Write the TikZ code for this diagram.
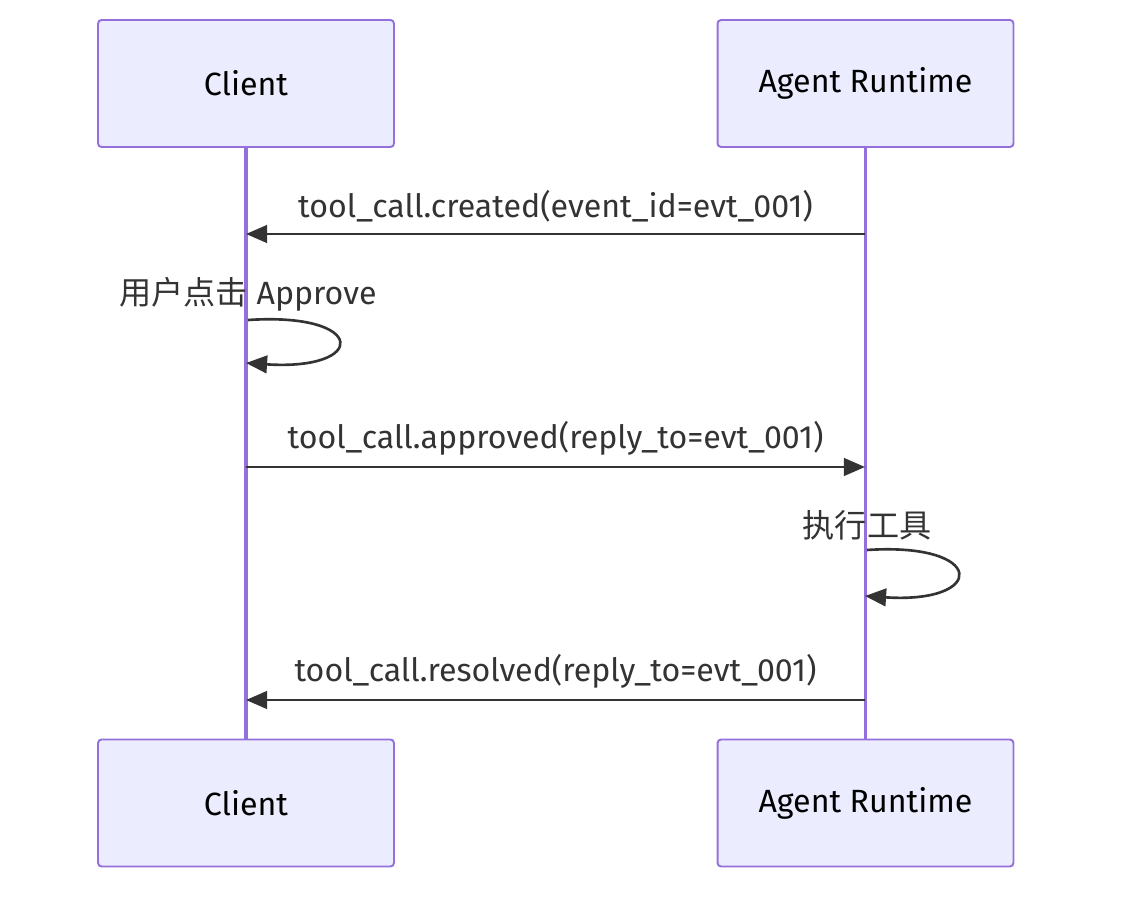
\documentclass[tikz,border=0pt]{standalone}
\usepackage{fontspec}
\setmainfont{Fira Sans}
\newfontfamily\cjk{Noto Sans CJK SC}
\usetikzlibrary{arrows.meta}
\definecolor{actfill}{HTML}{ECECFF}
\definecolor{actline}{HTML}{9370DB}
\definecolor{msgline}{HTML}{333333}
\tikzset{
  actor/.style={draw=actline, fill=actfill, line width=1.1pt, rounded corners=2pt,
    minimum width=5.92cm, minimum height=2.54cm, font=\fontsize{18.3}{22}\selectfont},
  life/.style={actline, line width=1.8pt},
  msg/.style={msgline, line width=1.5pt, -{Triangle[length=12pt,width=10pt]}},
  lbl/.style={text=msgline, font=\fontsize{18.3}{22}\selectfont, inner sep=0pt}
}
\begin{document}
\begin{tikzpicture}[x=0.02cm, y=-0.02cm]
\useasboundingbox (0,0) rectangle (1130,902);
\node[actor] (client) at (246,83.5) {Client};
\node[actor] (agent) at (865.5,83.5) {Agent Runtime};
\node[actor] (clientB) at (246,803) {Client};
\node[actor] (agentB) at (865.5,803) {Agent Runtime};
\draw[life] (client) -- (clientB);
\draw[life] (agent) -- (agentB);
% messages
\coordinate (c1) at (246,234);
\coordinate (a1) at (865,234);
\coordinate (c2) at (248,320);
\coordinate (c3) at (246,363);
\coordinate (c4) at (246,467);
\coordinate (a4) at (865,467);
\coordinate (a5) at (867,550);
\coordinate (a6) at (865,596);
\coordinate (c7) at (246,700);
\coordinate (a7) at (865,700);
\draw[msg] (a1) -- node[lbl, above=6pt] {tool\_call.created(event\_id=evt\_001)} (c1);
\node[lbl] (self1) at (248,294) {{\cjk 用户点击} Approve};
\draw[msg] (c2) .. controls (368,312) and (368,371) .. (c3);
\draw[msg] (c4) -- node[lbl, above=6pt] {tool\_call.approved(reply\_to=evt\_001)} (a4);
\node[lbl] (self2) at (867,525) {\cjk 执行工具};
\draw[msg] (a5) .. controls (987,542) and (987,604) .. (a6);
\draw[msg] (a7) -- node[lbl, above=6pt] {tool\_call.resolved(reply\_to=evt\_001)} (c7);
\end{tikzpicture}
\end{document}
